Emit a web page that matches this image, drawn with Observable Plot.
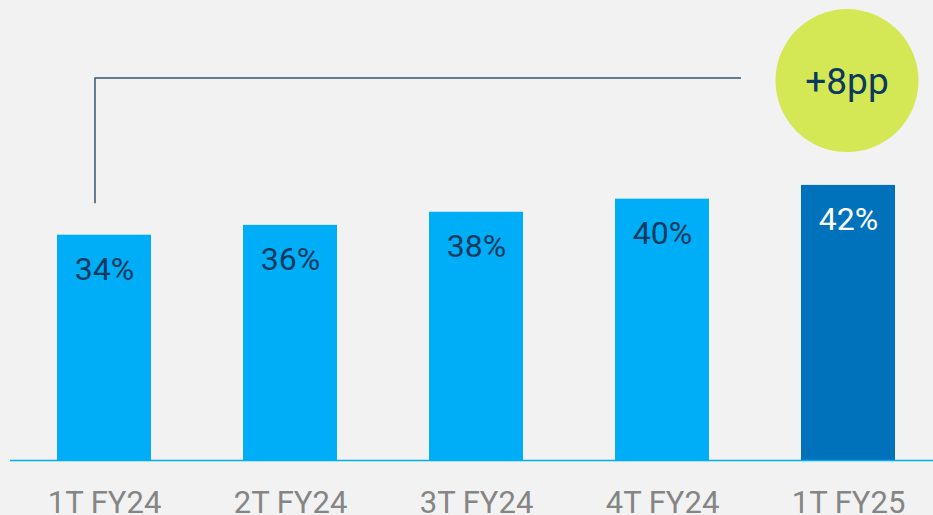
<!DOCTYPE html>
<html>
<head>
<meta charset="utf-8">
<script src="https://cdn.jsdelivr.net/npm/d3@7"></script>
<script src="https://cdn.jsdelivr.net/npm/@observablehq/plot@0.6"></script>
<style>
  html, body { margin: 0; padding: 0; background: #f2f2f2; }
  #chart svg { display: block; }
</style>
</head>
<body>
<div id="chart"></div>
<script>
const categories = ["1T FY24", "2T FY24", "3T FY24", "4T FY24", "1T FY25"];
const values = [34.4, 35.9, 37.9, 39.9, 42.0];
const valueLabels = ["34%", "36%", "38%", "40%", "42%"];
const highlight = [false, false, false, false, true];
const badgeText = ["+8pp"];
const badgeCategory = ["1T FY25"];
const badgeLevel = [58.0];
const bracketBase = [39.2];

const data = categories.map((c, i) => ({
  cat: c, value: values[i], label: valueLabels[i], hi: highlight[i]
}));
const badge = badgeText.map((t, i) => ({ cat: badgeCategory[i], y: badgeLevel[i], text: t }));

const chart = Plot.plot({
  width: 933,
  height: 515,
  marginTop: 0,
  marginBottom: 55,
  marginLeft: 10,
  marginRight: 0,
  style: { background: "#f2f2f2", fontFamily: "Roboto, 'Noto Sans', sans-serif" },
  x: { domain: categories, paddingInner: 0.496, paddingOuter: 0.2225, align: 0.554, label: null },
  y: { domain: [0, 70.23], axis: null },
  marks: [
    Plot.barY(data, { x: "cat", y: "value", fill: d => d.hi ? "#0072bc" : "#00adf7" }),
    Plot.ruleY([0], { stroke: "#00adf7", strokeWidth: 1.5 }),
    Plot.text(data, {
      x: "cat", y: "value", text: "label", dy: 45, lineAnchor: "bottom",
      fill: d => d.hi ? "#ffffff" : "#0b3a5e", fontSize: 32
    }),
    Plot.dot(badge, { x: "cat", y: "y", r: 71.5, fill: "#d4e855", dx: -1.5 }),
    Plot.text(badge, { x: "cat", y: "y", text: "text", fontSize: 37, fill: "#0b3a5e", dx: -1.5, dy: 2 }),
    Plot.axisX({ tickSize: 0, tickPadding: 30, fontSize: 31, color: "#858585", label: null })
  ]
});

// bracket, positioned from the chart's own scales
const sx = chart.scale("x");
const sy = chart.scale("y");
const xScale = d3.scaleBand().domain(sx.domain).range(sx.range)
  .paddingInner(sx.paddingInner).paddingOuter(sx.paddingOuter).align(sx.align);
const yScale = d3.scaleLinear().domain(sy.domain).range(sy.range);
const bw = xScale.bandwidth();
const xs = xScale(categories[0]) + bw / 2 - 8;
const xe = xScale(badge[0].cat) + bw / 2 - 1.5 - 71.5 - 35;
const yb = yScale(bracketBase[0]);
const yt = yScale(badge[0].y) - 2;
d3.select(chart).insert("path", "g[aria-label='dot']")
  .attr("d", `M${xs},${yb}V${yt}H${xe}`)
  .attr("fill", "none")
  .attr("stroke", "#36566f")
  .attr("stroke-width", 1.5);

document.getElementById("chart").appendChild(chart);
</script>
</body>
</html>
